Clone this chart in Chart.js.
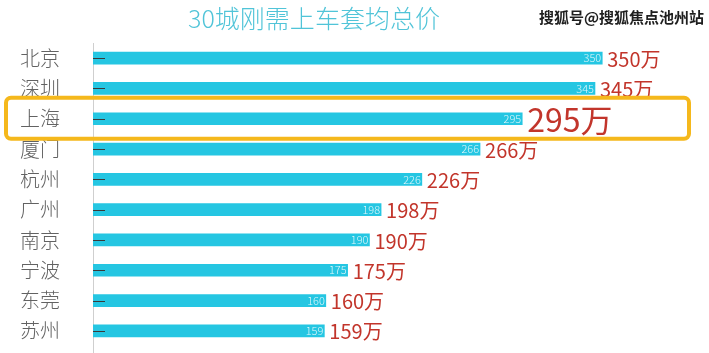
<!DOCTYPE html>
<html>
<head>
<meta charset="utf-8">
<script src="https://cdn.jsdelivr.net/npm/chart.js@4"></script>
<style>
  html, body { margin: 0; padding: 0; background: #fff; }
  #wrap { width: 709px; height: 353px; }
</style>
</head>
<body>
<div id="wrap"><canvas id="myChart" width="709" height="353"></canvas></div>
<script>
// data
var cities = ['北京', '深圳', '上海', '厦门', '杭州', '广州', '南京', '宁波', '东莞', '苏州'];
var prices = [350, 345, 295, 266, 226, 198, 190, 175, 160, 159];
var highlightCity = '上海';
var titleText = '30城刚需上车套均总价';
var watermark = '搜狐号@搜狐焦点池州站';

var FONT = '"Noto Sans CJK SC", "Noto Sans", sans-serif';

var extrasPlugin = {
    id: 'extras',
    afterDatasetsDraw: function(chart) {
        var ctx = chart.ctx;
        var meta = chart.getDatasetMeta(0);
        var yScale = chart.scales.y;
        ctx.save();

        // axis line runs down to the bottom edge
        ctx.strokeStyle = '#cfcfcf';
        ctx.lineWidth = 1;
        ctx.beginPath();
        ctx.moveTo(chart.chartArea.left + 0.5, chart.chartArea.bottom);
        ctx.lineTo(chart.chartArea.left + 0.5, chart.height);
        ctx.stroke();

        meta.data.forEach(function(bar, i) {
            // little tick inside each bar
            ctx.strokeStyle = '#3a3a3a';
            ctx.lineWidth = 1;
            ctx.beginPath();
            ctx.moveTo(bar.base, Math.round(bar.y) + 0.5);
            ctx.lineTo(bar.base + 12, Math.round(bar.y) + 0.5);
            ctx.stroke();

            // small value at bar end
            ctx.fillStyle = 'rgba(255,255,255,0.85)';
            ctx.font = '300 11px ' + FONT;
            ctx.textAlign = 'right';
            ctx.textBaseline = 'middle';
            ctx.fillText(String(prices[i]), bar.x - 1, bar.y);

            // red label
            var big = cities[i] === highlightCity;
            ctx.fillStyle = '#c2352b';
            ctx.font = (big ? '32px ' : '20px ') + FONT;
            ctx.textAlign = 'left';
            ctx.fillText(prices[i] + '万', bar.x + 5, bar.y + 1);
        });

        // highlight box
        var hy = yScale.getPixelForValue(cities.indexOf(highlightCity));
        ctx.strokeStyle = '#f5b81c';
        ctx.lineWidth = 4;
        ctx.beginPath();
        ctx.roundRect(6, hy - 21, 683, 41, 5);
        ctx.stroke();

        // title
        ctx.fillStyle = '#50c4d8';
        ctx.font = '300 25px ' + FONT;
        ctx.textAlign = 'center';
        ctx.textBaseline = 'middle';
        ctx.fillText(titleText, 314, 18);

        // watermark
        ctx.font = 'bold 15px ' + FONT;
        ctx.textAlign = 'right';
        ctx.lineWidth = 3;
        ctx.strokeStyle = '#ffffff';
        ctx.strokeText(watermark, 704, 17);
        ctx.fillStyle = '#1e1e1e';
        ctx.fillText(watermark, 704, 17);

        ctx.restore();
    }
};

window.onload = function() {
    var ctx = document.getElementById('myChart').getContext('2d');

    var myChart = new Chart(ctx, {
        type: 'bar',
        data: {
            labels: cities,
            datasets: [{
                data: prices,
                backgroundColor: '#25c6e2',
                barThickness: 12,
                borderWidth: 0
            }]
        },
        options: {
            indexAxis: 'y',
            responsive: false,
            animation: false,
            layout: {
                padding: { left: 20, right: 34, top: 43, bottom: 7 }
            },
            plugins: {
                legend: { display: false },
                tooltip: { enabled: false },
                title: { display: false }
            },
            scales: {
                x: {
                    display: false,
                    min: 0,
                    max: 400
                },
                y: {
                    afterFit: function(scale) {
                        scale.width = 73;
                        scale.paddingTop = 0;
                        scale.paddingBottom = 0;
                    },
                    grid: { display: false, drawTicks: false },
                    border: { display: true, color: '#cfcfcf', width: 1 },
                    ticks: {
                        crossAlign: 'far',
                        color: '#626262',
                        font: { family: FONT, size: 20, weight: '300' }
                    }
                }
            }
        },
        plugins: [extrasPlugin]
    });
};
</script>
</body>
</html>
